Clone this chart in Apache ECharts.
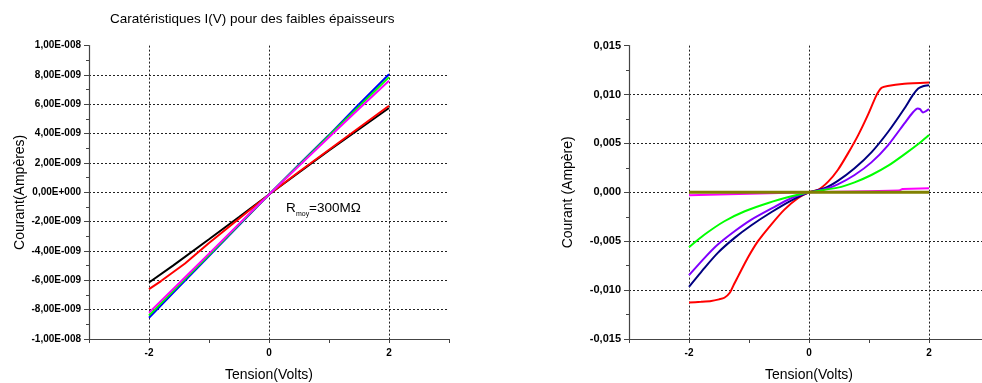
<!DOCTYPE html>
<html><head><meta charset="utf-8">
<script src="https://cdn.jsdelivr.net/npm/echarts@6/dist/echarts.min.js"></script>
<style>html,body{margin:0;padding:0;background:#fff}#c{width:982px;height:383px}</style>
</head><body><div id="c"></div>
<script>
// ---------- Left chart data (Tension V, Courant A) ----------
var leftBlack   = [[-2,-6.15e-9],[-1.6,-5.0e-9],[-1,-3.2e-9],[-0.5,-1.68e-9],[0,-0.15e-9],[0.5,1.35e-9],[1,2.85e-9],[1.5,4.3e-9],[2,5.75e-9]];
var leftRed     = [[-2,-6.6e-9],[-1.8,-6.05e-9],[-1.6,-5.45e-9],[-1.4,-4.85e-9],[-1.2,-4.15e-9],[-1,-3.45e-9],[-0.5,-1.8e-9],[0,-0.15e-9],[0.5,1.4e-9],[1,2.9e-9],[1.5,4.4e-9],[2,5.9e-9]];
var leftBlue    = [[-2,-8.55e-9],[-1.5,-6.45e-9],[-1,-4.35e-9],[-0.5,-2.25e-9],[0,-0.15e-9],[0.5,1.9e-9],[1,3.9e-9],[1.5,6.0e-9],[2,8.05e-9]];
var leftGreen   = [[-2,-8.4e-9],[-1.5,-6.33e-9],[-1,-4.27e-9],[-0.5,-2.2e-9],[0,-0.15e-9],[0.5,1.85e-9],[1,3.85e-9],[1.5,5.85e-9],[2,7.85e-9]];
var leftMagenta = [[-2,-8.2e-9],[-1.5,-6.2e-9],[-1,-4.18e-9],[-0.5,-2.15e-9],[0,-0.15e-9],[0.5,1.8e-9],[1,3.75e-9],[1.5,5.7e-9],[2,7.6e-9]];

// ---------- Right chart data ----------
var rightRed = [[-2,-0.01127],[-1.8,-0.0112],[-1.63,-0.01112],[-1.5,-0.01095],[-1.41,-0.01078],[-1.32,-0.01027],[-1.25,-0.0094],[-1.18,-0.00857],[-1.02,-0.0067],[-0.85,-0.005],[-0.63,-0.0033],[-0.41,-0.00177],[-0.18,-0.00058],[0,0],[0.15,0.00024],[0.32,0.00109],[0.48,0.00228],[0.65,0.00398],[0.82,0.00585],[0.98,0.00789],[1.12,0.00986],[1.21,0.01068],[1.31,0.01088],[1.59,0.01109],[2,0.01122]];
var rightNavy = [[-2,-0.00966],[-1.74,-0.00772],[-1.52,-0.00619],[-1.24,-0.00466],[-0.96,-0.00337],[-0.63,-0.00204],[-0.29,-0.00082],[0,0],[0.26,0.00041],[0.48,0.00116],[0.76,0.00245],[1.04,0.00408],[1.32,0.00619],[1.59,0.00857],[1.73,0.00993],[1.82,0.01061],[1.9,0.01085],[2,0.01095]];
var rightViolet = [[-2,-0.00847],[-1.74,-0.0067],[-1.52,-0.00534],[-1.24,-0.00398],[-0.96,-0.00279],[-0.63,-0.00167],[-0.29,-0.00058],[0,0],[0.26,0.00031],[0.48,0.00082],[0.76,0.00177],[1.04,0.00306],[1.32,0.00483],[1.59,0.00704],[1.73,0.00816],[1.81,0.00857],[1.85,0.0085],[1.9,0.00816],[1.95,0.0083],[2,0.0085]];
var rightGreen = [[-2,-0.00561],[-1.74,-0.00432],[-1.41,-0.00296],[-1.07,-0.00194],[-0.68,-0.00109],[-0.29,-0.00041],[0,0],[0.48,0.00048],[0.76,0.00102],[1.04,0.00177],[1.32,0.00272],[1.59,0.00388],[1.87,0.00517],[2,0.00585]];
var rightMagenta = [[-2,-0.00031],[-1,-0.00016],[0,0],[1,0.00012],[1.5,0.00018],[1.56,0.00035],[2,0.00042]];
var rightOlive = [[-2,0],[-1,0],[0,0],[1,0],[2,0]];

// ---------- Axes / ticks ----------
var titleText = 'Caratéristiques I(V) pour des faibles épaisseurs';
var xAxisName = 'Tension(Volts)';
var leftYName = 'Courant(Ampères)';
var rightYName = 'Courant (Ampère)';
var xLabelValues = [-2, 0, 2];
var leftYRange = [-1e-8, 1e-8, 2e-9];
var rightYRange = [-0.015, 0.015, 0.005];
var xRange = [-3, 3, 1];

var FONT = '"Liberation Sans", Arial, sans-serif';
var GRIDC = '#222';
var NONE = 'rgba(0,0,0,0)';

function sciLabel(v) {
  if (Math.abs(v) < 1e-20) return '0,00E+000';
  var e = Math.floor(Math.log10(Math.abs(v)) + 1e-9);
  var m = v / Math.pow(10, e);
  var es = (e < 0 ? '-' : '+') + String(Math.abs(e)).padStart(3, '0');
  return m.toFixed(2).replace('.', ',') + 'E' + es;
}
function decLabel(v) {
  if (Math.abs(v) < 1e-12) v = 0;
  return v.toFixed(3).replace('.', ',');
}

function xAxisCfg(idx) {
  return {
    type: 'value', gridIndex: idx, min: xRange[0], max: xRange[1], interval: xRange[2],
    name: xAxisName, nameLocation: 'middle', nameGap: 29,
    nameTextStyle: { fontFamily: FONT, fontSize: 14, color: '#000' },
    axisLine: { show: true, onZero: false, lineStyle: { color: '#444', width: 1.2 } },
    axisTick: { show: true, length: 4, lineStyle: { color: '#444' } },
    axisLabel: {
      margin: 9, fontFamily: FONT, fontSize: 10, fontWeight: 'bold', color: '#000',
      formatter: function (v) { return xLabelValues.indexOf(v) >= 0 ? String(v) : ''; }
    },
    // split lines only at -2, 0, 2 (index of ticks -3..3)
    splitLine: { show: true, lineStyle: { color: [NONE, GRIDC, NONE, GRIDC, NONE, GRIDC, NONE], type: [2, 2], width: 1 } }
  };
}
function yAxisCfg(idx, range, name, gap, fmt, fs, nLines) {
  var cols = [];
  for (var i = 0; i < nLines; i++) cols.push(i === 0 || i === nLines - 1 ? NONE : GRIDC);
  return {
    type: 'value', gridIndex: idx, min: range[0], max: range[1], interval: range[2],
    name: name, nameLocation: 'middle', nameGap: gap,
    nameTextStyle: { fontFamily: FONT, fontSize: 14, color: '#000' },
    axisLine: { show: true, onZero: false, lineStyle: { color: '#444', width: 1.2 } },
    axisTick: { show: true, length: 5, lineStyle: { color: '#444' } },
    minorTick: { show: true, splitNumber: 2, length: 3, lineStyle: { color: '#444' } },
    axisLabel: { margin: 8, fontFamily: FONT, fontSize: fs, fontWeight: 'bold', color: '#000', formatter: fmt },
    splitLine: { show: true, lineStyle: { color: cols, type: [2, 2], width: 1 } }
  };
}

function line(name, data, color, xi, width, smooth) {
  return {
    name: name, type: 'line', xAxisIndex: xi, yAxisIndex: xi, data: data,
    showSymbol: false, symbol: 'none', smooth: smooth || false,
    lineStyle: { color: color, width: width || 2 }, itemStyle: { color: color },
    z: 2, silent: true
  };
}

var chart = echarts.init(document.getElementById('c'), null, { renderer: 'canvas' });
chart.setOption({
  animation: false,
  backgroundColor: '#fff',
  title: { text: titleText, left: 105, top: 7, textStyle: { fontFamily: FONT, fontSize: 13.5, fontWeight: 'normal', color: '#000' } },
  grid: [
    { left: 89, top: 45.6, width: 360, height: 293.4, containLabel: false, outerBoundsMode: 'none' },
    { left: 629, top: 45.6, width: 360, height: 293.4, containLabel: false, outerBoundsMode: 'none' }
  ],
  xAxis: [xAxisCfg(0), xAxisCfg(1)],
  yAxis: [
    yAxisCfg(0, leftYRange, leftYName, 61, sciLabel, 10, 11),
    yAxisCfg(1, rightYRange, rightYName, 54, decLabel, 11, 7)
  ],
  graphic: [
    { type: 'text', left: 286, top: 201, style: { text: 'R', font: '13.5px ' + FONT, fill: '#000' } },
    { type: 'text', left: 296, top: 211, style: { text: 'moy', font: '7px ' + FONT, fill: '#000' } },
    { type: 'text', left: 309, top: 201, style: { text: '=300MΩ', font: '13.5px ' + FONT, fill: '#000' } }
  ],
  series: [
    line('noir', leftBlack, '#000000', 0),
    line('rouge', leftRed, '#ff0000', 0),
    line('bleu', leftBlue, '#0000ff', 0),
    line('vert', leftGreen, '#00ff00', 0),
    line('magenta', leftMagenta, '#ff00ff', 0),
    line('rouge2', rightRed, '#ff0000', 1, 2, 0.2),
    line('marine', rightNavy, '#000080', 1, 2, 0.2),
    line('violet', rightViolet, '#8000ff', 1, 2, 0.2),
    line('vert2', rightGreen, '#00ff00', 1, 2, 0.2),
    line('magenta2', rightMagenta, '#ff00ff', 1, 2),
    line('olive', rightOlive, '#808000', 1, 3)
  ]
});
</script></body></html>
